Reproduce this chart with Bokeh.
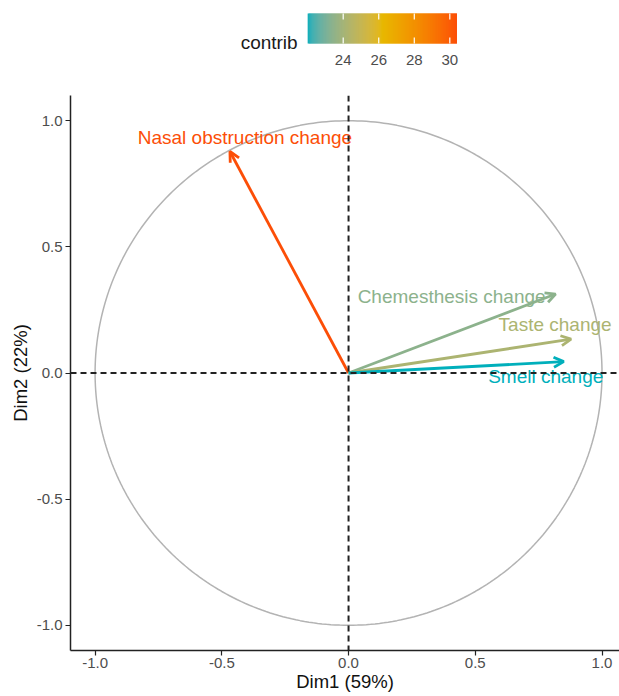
import numpy as np
from bokeh.plotting import figure
from bokeh.layouts import column
from bokeh.models import (ColumnDataSource, Range1d, Span, Arrow, OpenHead,
                          FixedTicker, PrintfTickFormatter)
from bokeh.core.properties import value
from bokeh.embed import file_html
from bokeh.resources import INLINE

# ---------------- data ----------------
variables = ["Nasal obstruction change", "Chemesthesis change", "Taste change", "Smell change"]
dim1 = [-0.468, 0.817, 0.878, 0.849]
dim2 = [0.878, 0.313, 0.134, 0.045]
contrib = [30.4, 23.4, 24.2, 22.0]
legend_ticks = [24, 26, 28, 30]
axis_ticks = [-1.0, -0.5, 0.0, 0.5, 1.0]
x_title = "Dim1 (59%)"
y_title = "Dim2 (22%)"
legend_title = "contrib"
gradient_colors = ["#00AFBB", "#E7B800", "#FC4E07"]
circle_radius = 1.0

# label placement (screen px offsets from arrow tips)
label_dx = [15, -104, -16, -18]
label_dy = [-14, 2, -15, 15]

FONT = value("Liberation Sans")

# ---------------- colour gradient (Lab interpolation like ggplot) ----------------
def _lin(c):
    c = c / 255.0
    return c / 12.92 if c <= 0.04045 else ((c + 0.055) / 1.055) ** 2.4

def _delin(c):
    c = 12.92 * c if c <= 0.0031308 else 1.055 * c ** (1 / 2.4) - 0.055
    return int(round(min(max(c, 0), 1) * 255))

WX, WY, WZ = 0.95047, 1.0, 1.08883

def _f(t):
    d = 6 / 29
    return t ** (1 / 3) if t > d ** 3 else t / (3 * d * d) + 4 / 29

def _finv(t):
    d = 6 / 29
    return t ** 3 if t > d else 3 * d * d * (t - 4 / 29)

def hex_to_lab(h):
    r, g, b = (_lin(int(h[i:i + 2], 16)) for i in (1, 3, 5))
    X = 0.4124564 * r + 0.3575761 * g + 0.1804375 * b
    Y = 0.2126729 * r + 0.7151522 * g + 0.0721750 * b
    Z = 0.0193339 * r + 0.1191920 * g + 0.9503041 * b
    fx, fy, fz = _f(X / WX), _f(Y / WY), _f(Z / WZ)
    return (116 * fy - 16, 500 * (fx - fy), 200 * (fy - fz))

def lab_to_hex(L, a, b):
    fy = (L + 16) / 116
    fx = fy + a / 500
    fz = fy - b / 200
    X, Y, Z = WX * _finv(fx), WY * _finv(fy), WZ * _finv(fz)
    r = 3.2404542 * X - 1.5371385 * Y - 0.4985314 * Z
    g = -0.9692660 * X + 1.8760108 * Y + 0.0415560 * Z
    bb = 0.0556434 * X - 0.2040259 * Y + 1.0572252 * Z
    return "#%02x%02x%02x" % (_delin(r), _delin(g), _delin(bb))

LABS = [hex_to_lab(c) for c in gradient_colors]

def grad(t):
    t = min(max(t, 0.0), 1.0)
    n = len(LABS) - 1
    k = min(int(t * n), n - 1)
    s = t * n - k
    a, b = LABS[k], LABS[k + 1]
    return lab_to_hex(*[a[i] + (b[i] - a[i]) * s for i in range(3)])

low, high = min(contrib), max(contrib)
colors = [grad((c - low) / (high - low)) for c in contrib]

# ---------------- layout constants ----------------
TOTAL_W = 619
LEFT = 70           # frame left edge (shared by both figures)
FRAME_W = TOTAL_W - LEFT

# ---------------- legend figure ----------------
LEG_H = 75
px_per_unit = 17.77
lx0 = legend_ticks[0] - (342.7 - LEFT) / px_per_unit
leg = figure(width=TOTAL_W, height=LEG_H,
             x_range=Range1d(lx0, lx0 + FRAME_W / px_per_unit),
             y_range=Range1d(0, LEG_H), toolbar_location=None, output_backend="svg",
             x_axis_location=None, y_axis_location=None,
             min_border_left=LEFT, min_border_right=0, min_border_top=0, min_border_bottom=0,
             outline_line_color=None)
leg.xgrid.visible = False
leg.ygrid.visible = False

nseg = 150
step = (high - low) / nseg
edges = np.linspace(low, high, nseg + 1)
mids = (edges[:-1] + edges[1:]) / 2
leg.quad(left=edges[:-1], right=np.minimum(edges[1:] + step, high), bottom=32, top=62,
         fill_color=[grad((m - low) / (high - low)) for m in mids], line_color=None)
leg.segment(x0=legend_ticks, x1=legend_ticks, y0=[62] * 4, y1=[56] * 4,
            line_color="white", line_width=1.2)
leg.segment(x0=legend_ticks, x1=legend_ticks, y0=[32] * 4, y1=[38] * 4,
            line_color="white", line_width=1.2)
leg.text(x=legend_ticks, y=[16] * 4, text=[str(t) for t in legend_ticks],
         text_align="center", text_baseline="middle", text_font=FONT,
         text_font_size="15px", text_color="#4d4d4d")
leg.text(x=[low], y=[33], text=[legend_title], x_offset=-10, text_align="right",
         text_baseline="middle", text_font=FONT, text_font_size="19px", text_color="#1a1a1a")

# ---------------- main figure ----------------
p = figure(width=TOTAL_W, height=619, x_range=Range1d(-1.097, 1.069), y_range=Range1d(-1.1, 1.1),
           toolbar_location=None, output_backend="svg",
           min_border_left=LEFT, min_border_right=0, min_border_top=20, min_border_bottom=44,
           outline_line_color=None)
p.xgrid.visible = False
p.ygrid.visible = False

theta = np.linspace(0, 2 * np.pi, 361)
p.line(circle_radius * np.cos(theta), circle_radius * np.sin(theta),
       line_color="#b3b3b3", line_width=1.5)

for xx, yy, col in zip(dim1, dim2, colors):
    p.add_layout(Arrow(x_start=0, y_start=0, x_end=xx, y_end=yy,
                       line_color=col, line_width=2.8,
                       end=OpenHead(size=10, line_color=col, line_width=2.8)))

p.add_layout(Span(location=0, dimension="width", line_color="#222222",
                  line_dash="6 4", line_width=2))
p.add_layout(Span(location=0, dimension="height", line_color="#222222",
                  line_dash="6 4", line_width=2))

src = ColumnDataSource(dict(x=dim1, y=dim2, label=variables, color=colors,
                            dx=label_dx, dy=label_dy))
p.text(x="x", y="y", text="label", source=src, text_color="color",
       x_offset="dx", y_offset="dy", text_align="center", text_baseline="middle",
       text_font=FONT, text_font_size="19px")

for ax in (p.xaxis[0], p.yaxis[0]):
    ax.ticker = FixedTicker(ticks=axis_ticks)
    ax.formatter = PrintfTickFormatter(format="%.1f")
    ax.minor_tick_line_color = None
    ax.major_tick_in = 0
    ax.major_tick_out = 5
    ax.major_tick_line_color = "#222222"
    ax.major_tick_line_width = 1.2
    ax.axis_line_color = "#222222"
    ax.axis_line_width = 1.5
    ax.major_label_text_font = "Liberation Sans"
    ax.major_label_text_font_size = "15px"
    ax.major_label_text_color = "#4d4d4d"
    ax.axis_label_text_font = "Liberation Sans"
    ax.axis_label_text_font_size = "18.5px"
    ax.axis_label_text_font_style = "normal"
    ax.axis_label_text_color = "#111111"

p.xaxis.axis_label = x_title
p.yaxis.axis_label = y_title
p.xaxis.major_label_standoff = 2
p.xaxis.axis_label_standoff = 0
p.yaxis.major_label_standoff = 3
p.yaxis.axis_label_standoff = 3

layout = column(leg, p)
open("out.html", "w").write(file_html(layout, INLINE))
